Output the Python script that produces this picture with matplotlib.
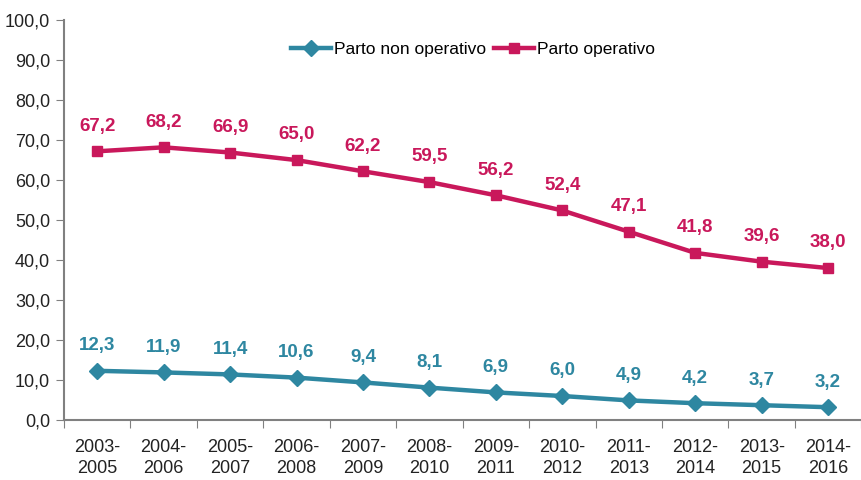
import matplotlib.pyplot as plt

plt.rcParams['font.family'] = ['Liberation Sans', 'DejaVu Sans']

periodi = ['2003-\n2005', '2004-\n2006', '2005-\n2007', '2006-\n2008', '2007-\n2009', '2008-\n2010',
           '2009-\n2011', '2010-\n2012', '2011-\n2013', '2012-\n2014', '2013-\n2015', '2014-\n2016']
non_operativo = [12.3, 11.9, 11.4, 10.6, 9.4, 8.1, 6.9, 6.0, 4.9, 4.2, 3.7, 3.2]
operativo = [67.2, 68.2, 66.9, 65.0, 62.2, 59.5, 56.2, 52.4, 47.1, 41.8, 39.6, 38.0]

teal = '#2E87A1'
rosso = '#C9185B'

fig = plt.figure(figsize=(8.62, 4.8), dpi=100)
ax = fig.add_axes([0.0742, 0.125, 0.925, 0.833])

x = list(range(len(periodi)))
ax.plot(x, non_operativo, color=teal, lw=3.2, marker='D', ms=8, label='Parto non operativo')
ax.plot(x, operativo, color=rosso, lw=3.2, marker='s', ms=7.5, label='Parto operativo')

def fmt(v):
    return f'{v:.1f}'.replace('.', ',')

for xi, v in zip(x, non_operativo):
    ax.annotate(fmt(v), (xi, v), xytext=(0, 12), textcoords='offset points',
                ha='center', va='bottom', color=teal, fontsize=13.5, fontweight='bold')
for xi, v in zip(x, operativo):
    ax.annotate(fmt(v), (xi, v), xytext=(0, 12), textcoords='offset points',
                ha='center', va='bottom', color=rosso, fontsize=13.5, fontweight='bold')

ax.set_ylim(0, 100)
ax.set_xlim(-0.5, len(periodi) - 0.5)
ax.set_yticks(range(0, 101, 10))
ax.set_yticklabels([fmt(v) for v in range(0, 101, 10)], fontsize=13, color='#222222')
ax.set_xticks([i + 0.5 for i in range(-1, len(periodi))])
ax.set_xticklabels([])
ax.set_xticks(x, minor=True)
ax.set_xticklabels(periodi, minor=True, fontsize=13, color='#222222', linespacing=1.3)
ax.tick_params(axis='x', which='minor', length=0, pad=14)
ax.tick_params(axis='x', which='major', length=6, color='#808080')
ax.tick_params(axis='y', length=6, color='#808080', pad=4)

for s in ['top', 'right']:
    ax.spines[s].set_visible(False)
for s in ['left', 'bottom']:
    ax.spines[s].set_color('#808080')
    ax.spines[s].set_linewidth(1.5)

ax.legend(loc='upper center', bbox_to_anchor=(0.513, 0.985), ncol=2, frameon=False,
          fontsize=12.5, handlelength=2.3, handletextpad=0.15, columnspacing=0.5)

fig.savefig('out.png', dpi=100)
